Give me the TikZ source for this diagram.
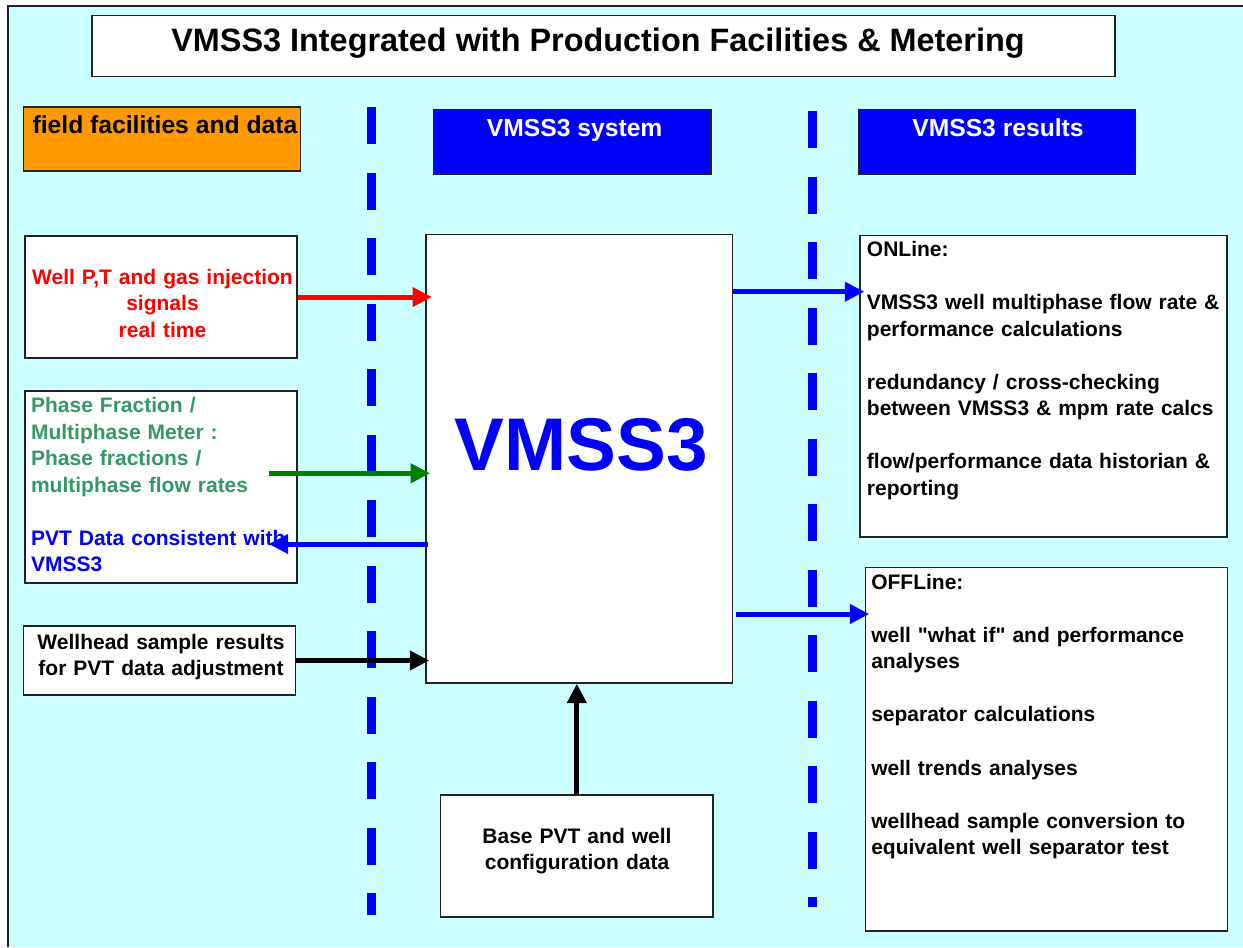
\documentclass[tikz,border=0pt]{standalone}
\usepackage{fontspec}
\setmainfont{Liberation Sans}[Ligatures=TeXOff]
\usetikzlibrary{arrows.meta,fit}
\definecolor{bgcyan}{HTML}{CCFFFF}
\definecolor{boxline}{HTML}{222222}
\definecolor{orangefill}{HTML}{FF9900}
\definecolor{txtgreen}{HTML}{339966}
\definecolor{arrgreen}{HTML}{008000}
\begin{document}
\begin{tikzpicture}[x=0.75pt,y=-0.75pt,
  box/.style={draw=boxline, line width=1.1pt, fill=white, inner sep=0pt},
  hdrbox/.style={draw=boxline, line width=1.1pt, inner sep=0pt},
  body/.style={inner sep=0pt, font=\fontsize{15.75}{19.9}\selectfont\bfseries},
  lefttxt/.style={body, text width=300pt, align=left, anchor=base west},
  ctrtxt/.style={body, text width=215pt, align=center, anchor=base},
  hdr/.style={inner sep=0pt, font=\fontsize{18.5}{22}\selectfont\bfseries},
  arr/.style={line width=3.75pt, -{Triangle[length=14.5pt,width=14pt]}},
  dashv/.style={draw=blue, line width=6.75pt, dash pattern=on 27.75pt off 21.375pt}
]
\useasboundingbox (0,0) rectangle (1243,947);
% background
\fill[bgcyan] (8,6) rectangle (1243,947);
\draw[boxline, line width=1.5pt] (8,947) -- (8,6) -- (1243,6);

% dashed separators
\draw[dashv] (371.5,107) -- (371.5,915);
\draw[dashv] (812.4,111) -- (812.4,907);

% title
\node[box, fit={(92,15.7) (1115,76.7)}] (titlebox) {};
\node[inner sep=0pt, anchor=base, font=\fontsize{24.3}{29}\selectfont\bfseries] (title) at (598,51.7) {VMSS3 Integrated with Production Facilities \& Metering};

% headers
\node[hdrbox, fill=orangefill, fit={(23.7,107) (300.4,171)}] (fieldbox) {};
\node[hdr, anchor=base west] (fieldtxt) at (32.4,133.3) {field facilities and data};
\node[hdrbox, fill=blue, fit={(433.3,109.3) (710.8,174)}] (sysbox) {};
\node[hdr, anchor=base, text=white] (systxt) at (574.7,136.7) {VMSS3 system};
\node[hdrbox, fill=blue, fit={(858.6,109.3) (1135.5,174)}] (resbox) {};
\node[hdr, anchor=base, text=white] (restxt) at (998,136.7) {VMSS3 results};

% left boxes
\node[box, fit={(24.9,236) (297.2,358)}] (well) {};
\node[ctrtxt, text=red] (welltxt) at (162.5,284) {Well P,T and gas injection\\signals\\real time};

\node[box, fit={(25,391) (297,583)}] (phase) {};
\node[lefttxt] (phasetxt) at (30.8,412.5) {\textcolor{txtgreen}{Phase Fraction /}\\\textcolor{txtgreen}{Multiphase Meter :}\\\textcolor{txtgreen}{Phase fractions /}\\\textcolor{txtgreen}{multiphase flow rates}\\~\\\textcolor{blue}{PVT Data consistent with}\\\textcolor{blue}{VMSS3}};

\node[box, fit={(23.7,626) (295.6,695)}] (wellhead) {};
\node[ctrtxt] (wellheadtxt) at (161,649.4) {Wellhead sample results\\for PVT data adjustment};

% center
\node[box, fit={(426,234.3) (732.7,683)}] (vmss) {};
\node[inner sep=0pt, anchor=base, text=blue, font=\fontsize{56}{60}\selectfont\bfseries] (vmsstxt) at (581,470) {VMSS3};

\node[box, fit={(440.7,795) (713,917)}] (base) {};
\node[ctrtxt] (basetxt) at (577,843) {Base PVT and well\\configuration data};

% right boxes
\node[box, fit={(860,235.7) (1227,537)}] (online) {};
\node[lefttxt] (onlinetxt) at (866.7,256.7) {ONLine:\\~\\VMSS3 well multiphase flow rate \&\\performance calculations\\~\\redundancy / cross-checking\\between VMSS3 \& mpm rate calcs\\~\\flow/performance data historian \&\\reporting};

\node[box, fit={(865.3,567.3) (1227.3,931)}] (offline) {};
\node[lefttxt] (offlinetxt) at (871,589.3) {OFFLine:\\~\\well "what if" and performance\\analyses\\~\\separator calculations\\~\\well trends analyses\\~\\wellhead sample conversion to\\equivalent well separator test};

% connectors
\coordinate (gs) at (269,473.3);
\coordinate (pe) at (268.8,544);
\coordinate (onA) at (800,291.7);
\coordinate (offA) at (800,614);

\draw[arr, red] (well.east) -- ([xshift=5pt]well.east -| vmss.west);
\draw[arr, arrgreen] (gs) -- ([xshift=3.6pt]gs -| vmss.west);
\draw[arr, blue] ([xshift=2pt]pe -| vmss.west) -- (pe);
\draw[arr, black] (wellhead.east) -- ([xshift=3pt]wellhead.east -| vmss.west);
\draw[arr, black] (base.north) -- (base.north |- vmss.south);
\draw[arr, blue] (onA -| vmss.east) -- ([xshift=3.75pt]onA -| online.west);
\draw[arr, blue] ([xshift=2.25pt]offA -| vmss.east) -- ([xshift=3.5pt]offA -| offline.west);
\end{tikzpicture}
\end{document}
